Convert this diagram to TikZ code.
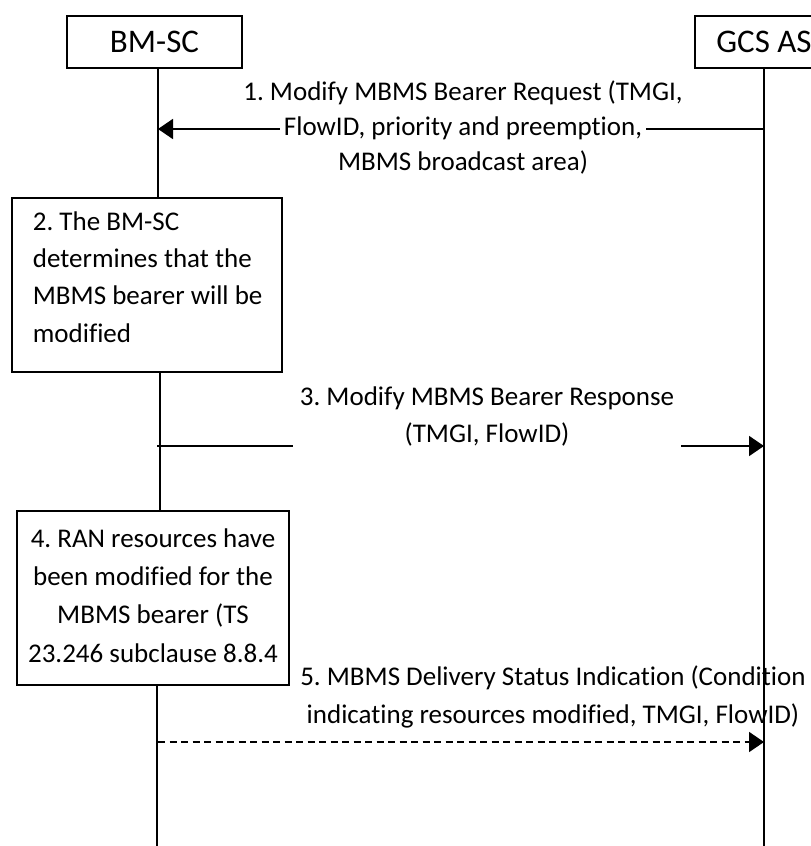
\documentclass[tikz,border=0pt]{standalone}
\usepackage{fontspec}
\setmainfont{Carlito}[Ligatures=NoCommon]
\usetikzlibrary{arrows.meta}
\frenchspacing
\begin{document}
\begin{tikzpicture}[x=1pt,y=-1pt,line width=1.8pt,
  every node/.style={inner sep=0pt,font=\fontsize{27}{37.5}\selectfont},
  headbox/.style={draw,line width=1.8pt,font=\fontsize{33}{40}\selectfont},
  actbox/.style={draw,line width=1.8pt},
  msg/.style={-{Triangle[length=15pt,width=20pt]}},
  msgdash/.style={-{Triangle[length=15pt,width=20pt]},dash pattern=on 7pt off 4.5pt},
  msglabel/.style={align=center,anchor=base}]
\useasboundingbox (0,0) rectangle (811,846);
\clip (0,0) rectangle (811,846);
% lifeline x positions
\coordinate (xa) at (158,0);
\coordinate (xb) at (160,0);
\coordinate (xc) at (157,0);
\coordinate (xg) at (764,0);
\coordinate (bottom) at (0,846);
% headers
\node[headbox,minimum width=175pt,minimum height=52pt] (bm) at (154.5,42) {BM-SC};
\node[headbox,minimum width=138pt,minimum height=52pt] (gcs) at (764,42) {GCS AS};
% action boxes (base anchor = baseline of last line)
\node[actbox,minimum width=270pt,minimum height=174pt] (b2) at (147,285) {};
\node[align=left,anchor=base west,font=\fontsize{27}{37.3}\selectfont] (b2t) at (32,342) {2. The BM-SC\\determines that the\\MBMS bearer will be\\modified};
\node[actbox,minimum width=272pt,minimum height=174pt] (b4) at (153,598) {};
\node[align=center,anchor=base,font=\fontsize{27}{38.3}\selectfont] (b4t) at (153,662) {4. RAN resources have\\been modified for the\\MBMS bearer (TS\\23.246 subclause 8.8.4};
% message points
\coordinate (m1g) at (764,129);
\coordinate (m1b) at (158,129);
\coordinate (m3b) at (157,446);
\coordinate (m3g) at (764,446);
\coordinate (m5b) at (158,742);
\coordinate (m5g) at (764,742);
% message 1
\draw[msg] (m1g) -- (m1b);
\node[msglabel,font=\fontsize{27}{35}\selectfont] (l1) at (463,170) {1. Modify MBMS Bearer Request (TMGI,\\{\fboxsep=4pt\colorbox{white}{FlowID, priority and preemption,}}\\MBMS broadcast area)};
% message 3
\draw[msg] (m3b) -- (m3g);
\node[msglabel,fill=white,inner xsep=7pt,inner ysep=6pt,font=\fontsize{27}{37}\selectfont] (l3) at (487,442) {3. Modify MBMS Bearer Response\\(TMGI, FlowID)};
% message 5
\draw[msgdash] (m5b) -- (m5g);
\node[msglabel,font=\fontsize{27}{38}\selectfont] (l5) at (553,723) {5. MBMS Delivery Status Indication (Condition\\indicating resources modified, TMGI, FlowID)};
% lifelines
\draw (bm.south -| xa) -- (b2.north -| xa);
\draw (b2.south -| xb) -- (b4.north -| xb);
\draw (b4.south -| xc) -- (bottom -| xc);
\draw (gcs.south) -- (bottom -| xg);
\end{tikzpicture}
\end{document}
